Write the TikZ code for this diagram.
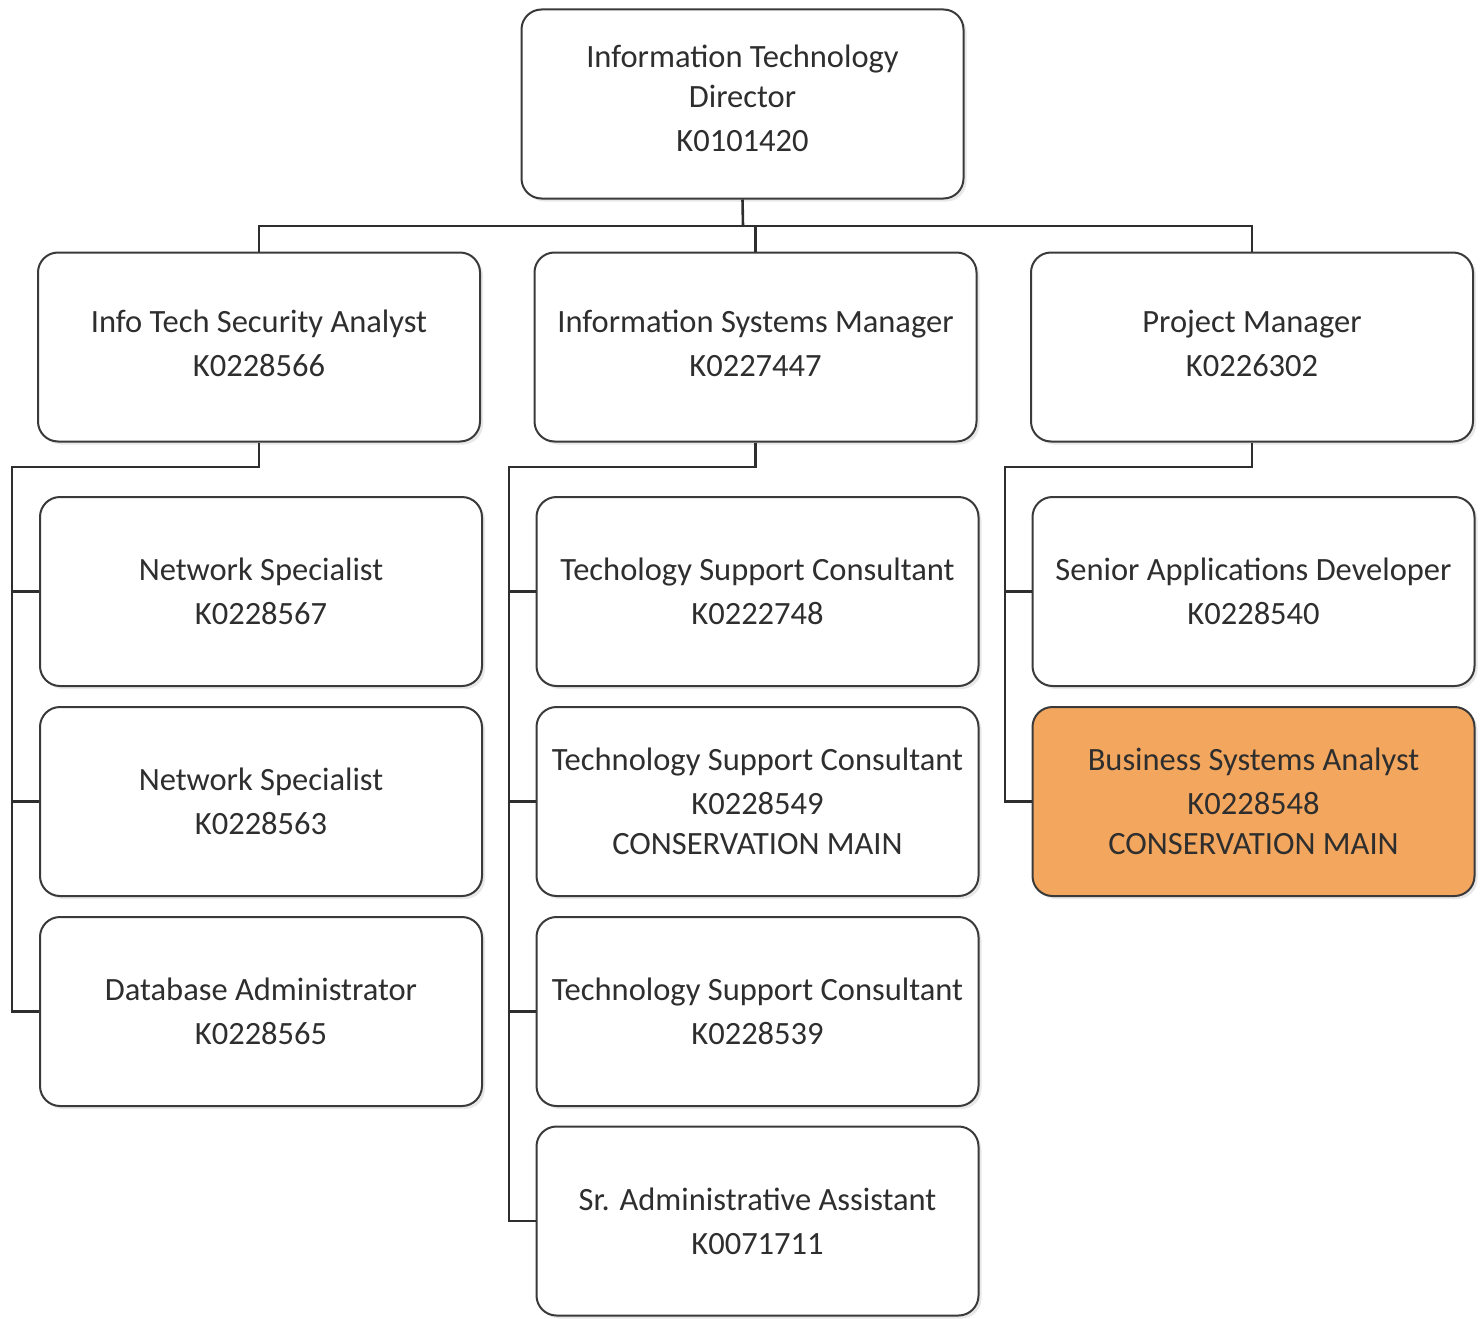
\documentclass[tikz,border=0pt]{standalone}
\usepackage{fontspec}
\setmainfont{Carlito}
\usetikzlibrary{shadows}
\definecolor{ink}{HTML}{2E2E2E}
\definecolor{boxline}{HTML}{3A3A3A}
\definecolor{highlight}{HTML}{F3A65E}
\tikzset{
  post/.style={draw=boxline, line width=2pt, rounded corners=20pt, fill=white,
    minimum width=442pt, minimum height=189pt, inner sep=0pt, align=center,
    text=ink, font=\fontsize{32.5}{44}\selectfont,
    drop shadow={shadow xshift=3pt, shadow yshift=-3pt, opacity=0.18, fill=gray}},
  hl/.style={fill=highlight, text=ink},
  lift/.style={text depth=#1},
  link/.style={draw=ink, line width=2.6pt, line join=miter}
}
\begin{document}
\begin{tikzpicture}[x=1pt, y=-1pt]
\useasboundingbox (0,0) rectangle (1480,1319);

% top level
\node[post, lift=12pt] (dir) at (742.5,104) {Information Technology\\[-4pt]Director\\K0101420};

% second level
\node[post, lift=8pt] (isa) at (259,347) {Info Tech Security Analyst\\K0228566};
\node[post, lift=8pt] (ism) at (755.5,347) {Information Systems Manager\\K0227447};
\node[post, lift=8pt] (pm)  at (1252,347) {Project Manager\\K0226302};

% reports of the security analyst
\node[post] (ns1) at (261,591.5) {Network Specialist\\K0228567};
\node[post] (ns2) at (261,801.5) {Network Specialist\\K0228563};
\node[post] (dba) at (261,1011.5) {Database Administrator\\K0228565};

% reports of the systems manager
\node[post] (tsc1) at (757.5,591.5) {Techology Support Consultant\\K0222748};
\node[post] (tsc2) at (757.5,801.5) {Technology Support Consultant\\K0228549\\[-4pt]CONSERVATION MAIN};
\node[post] (tsc3) at (757.5,1011.5) {Technology Support Consultant\\K0228539};
\node[post] (saa)  at (757.5,1221) {Sr. Administrative Assistant\\K0071711};

% reports of the project manager
\node[post] (sad) at (1253.5,591.5) {Senior Applications Developer\\K0228540};
\node[post, hl] (bsa) at (1253.5,801.5) {Business Systems Analyst\\K0228548\\[-4pt]CONSERVATION MAIN};

% connector junctions
\coordinate (bus) at (743,226);
\coordinate (lspine) at (12,467);
\coordinate (mspine) at (509,467);
\coordinate (rspine) at (1005,467);

% director to second level
\draw[link] (dir.south) -- (bus);
\draw[link] (isa.north) -- (isa.north |- bus) -- (pm.north |- bus) -- (pm.north);
\draw[link] (ism.north) -- (ism.north |- bus);

% security analyst branch
\draw[link] (isa.south) -- (isa.south |- lspine) -- (lspine) -- (lspine |- dba.west) -- (dba.west);
\draw[link] (lspine |- ns1.west) -- (ns1.west);
\draw[link] (lspine |- ns2.west) -- (ns2.west);

% systems manager branch
\draw[link] (ism.south) -- (ism.south |- mspine) -- (mspine) -- (mspine |- saa.west) -- (saa.west);
\draw[link] (mspine |- tsc1.west) -- (tsc1.west);
\draw[link] (mspine |- tsc2.west) -- (tsc2.west);
\draw[link] (mspine |- tsc3.west) -- (tsc3.west);

% project manager branch
\draw[link] (pm.south) -- (pm.south |- rspine) -- (rspine) -- (rspine |- bsa.west) -- (bsa.west);
\draw[link] (rspine |- sad.west) -- (sad.west);
\end{tikzpicture}
\end{document}
